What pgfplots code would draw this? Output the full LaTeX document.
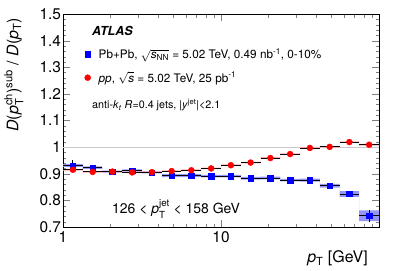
\documentclass[border=0pt]{standalone}
\usepackage{fontspec}
\setmainfont{TeX Gyre Heros}
\usepackage{amsmath}
\usepackage{pgfplots}
\usepackage{pgfplotstable}
\pgfplotsset{compat=1.18}
\definecolor{bandblue}{RGB}{150,150,245}
\definecolor{bandred}{RGB}{255,165,165}
\definecolor{gridgray}{RGB}{200,200,200}

\pgfplotstableread{
x       xm      xp      by     bey    ry     rey
1.1548  0.1548  0.1787  0.931  0.020  0.915  0.002
1.5399  0.2064  0.2384  0.923  0.003  0.907  0.002
2.0535  0.2752  0.3179  0.908  0.003  0.908  0.002
2.7384  0.3670  0.4239  0.912  0.003  0.905  0.002
3.6517  0.4894  0.5653  0.905  0.003  0.906  0.002
4.8697  0.6527  0.7537  0.893  0.003  0.910  0.002
6.4938  0.8704  1.0051  0.893  0.003  0.913  0.002
8.6596  1.1607  1.3404  0.891  0.003  0.920  0.002
11.548  1.548   1.787   0.891  0.003  0.932  0.002
15.399  2.064   2.384   0.883  0.003  0.942  0.002
20.535  2.752   3.179   0.884  0.003  0.959  0.002
27.384  3.670   4.239   0.876  0.003  0.974  0.002
36.517  4.894   5.653   0.876  0.003  0.997  0.002
48.697  6.527   7.537   0.855  0.004  1.001  0.002
64.938  8.704   10.051  0.824  0.006  1.019  0.002
86.596  11.607  13.404  0.742  0.022  1.009  0.003
}\pts

\begin{document}
\begin{tikzpicture}
\path[use as bounding box] (-63bp,-44bp) rectangle (336bp,227bp);
\begin{axis}[
  at={(0bp,0bp)}, anchor=south west,
  scale only axis, width=316bp, height=213bp,
  xmode=log, xmin=1, xmax=100, ymin=0.7, ymax=1.5,
  xtick={1,10,100}, xticklabels={1,10,{}},
  ytick={0.7,0.8,0.9,1,1.1,1.2,1.3,1.4,1.5},
  minor y tick num=4,
  tick align=inside, tick pos=both,
  xticklabel pos=lower, yticklabel pos=left,
  major tick length=7bp, minor tick length=3.5bp,
  axis line style={line width=0.8bp},
  ticklabel style={font=\fontsize{15.5}{17}\selectfont},
  yticklabel style={xshift=1.5bp},
  xticklabel style={yshift=-1.5bp},
  /pgf/number format/assume math mode=true,
  legend image code/.code={\path[draw=none,fill=none] (-5bp,-3bp) rectangle (9bp,3bp);
    \draw[#1] plot coordinates {(0bp,0bp)};},
  legend style={draw=none, fill=none, at={(axis description cs:0,1)}, anchor=north west,
    xshift=16.5bp, yshift=-30bp, font=\fontsize{11.8}{13.5}\selectfont, row sep=8bp},
  legend cell align=left,
]
\addplot[gridgray, line width=0.6bp, forget plot] coordinates {(1,1) (100,1)};

% blue systematic band (bin edges, upper then lower limits)
\addplot[fill=bandblue, draw=none, forget plot] coordinates {
(1,0.936) (1.3335,0.936) (1.3335,0.928) (1.7783,0.928) (1.7783,0.912) (2.3714,0.912)
(2.3714,0.916) (3.1623,0.916) (3.1623,0.909) (4.2170,0.909) (4.2170,0.899) (5.6234,0.899)
(5.6234,0.899) (7.4989,0.899) (7.4989,0.896) (10,0.896) (10,0.896) (13.335,0.896)
(13.335,0.888) (17.783,0.888) (17.783,0.889) (23.714,0.889) (23.714,0.881) (31.623,0.881)
(31.623,0.882) (42.170,0.882) (42.170,0.862) (56.234,0.862) (56.234,0.835) (74.989,0.835)
(74.989,0.762) (100,0.762)
(100,0.722) (74.989,0.722) (74.989,0.813) (56.234,0.813) (56.234,0.848) (42.170,0.848)
(42.170,0.870) (31.623,0.870) (31.623,0.871) (23.714,0.871) (23.714,0.879) (17.783,0.879)
(17.783,0.878) (13.335,0.878) (13.335,0.886) (10,0.886) (10,0.886) (7.4989,0.886)
(7.4989,0.887) (5.6234,0.887) (5.6234,0.887) (4.2170,0.887) (4.2170,0.901) (3.1623,0.901)
(3.1623,0.908) (2.3714,0.908) (2.3714,0.904) (1.7783,0.904) (1.7783,0.918) (1.3335,0.918)
(1.3335,0.926) (1,0.926)} -- cycle;

% red systematic band
\addplot[fill=bandred, draw=none, forget plot] coordinates {
(1,0.918) (1.3335,0.918) (1.3335,0.910) (1.7783,0.910) (1.7783,0.911) (2.3714,0.911)
(2.3714,0.908) (3.1623,0.908) (3.1623,0.909) (4.2170,0.909) (4.2170,0.913) (5.6234,0.913)
(5.6234,0.916) (7.4989,0.916) (7.4989,0.923) (10,0.923) (10,0.935) (13.335,0.935)
(13.335,0.945) (17.783,0.945) (17.783,0.962) (23.714,0.962) (23.714,0.977) (31.623,0.977)
(31.623,1.000) (42.170,1.000) (42.170,1.004) (56.234,1.004) (56.234,1.022) (74.989,1.022)
(74.989,1.012) (100,1.012)
(100,1.006) (74.989,1.006) (74.989,1.016) (56.234,1.016) (56.234,0.998) (42.170,0.998)
(42.170,0.994) (31.623,0.994) (31.623,0.971) (23.714,0.971) (23.714,0.956) (17.783,0.956)
(17.783,0.939) (13.335,0.939) (13.335,0.929) (10,0.929) (10,0.917) (7.4989,0.917)
(7.4989,0.910) (5.6234,0.910) (5.6234,0.907) (4.2170,0.907) (4.2170,0.903) (3.1623,0.903)
(3.1623,0.902) (2.3714,0.902) (2.3714,0.905) (1.7783,0.905) (1.7783,0.904) (1.3335,0.904)
(1.3335,0.912) (1,0.912)} -- cycle;

\addplot[only marks, mark=square*, mark size=2.7bp, mark options={fill=blue, draw=blue},
  error bars/.cd, x dir=both, x explicit, y dir=both, y explicit, error mark=none,
  error bar style={black, line width=0.8bp}]
  table[x=x, y=by, x error plus=xp, x error minus=xm, y error=bey] {\pts};
\addlegendentry{Pb+Pb, $\sqrt{\text{\textit{s}}_{\text{NN}}}$ = 5.02 TeV, 0.49 nb\textsuperscript{-1}, 0-10\%}

\addplot[only marks, mark=*, mark size=3bp, mark options={fill=red, draw=red},
  error bars/.cd, x dir=both, x explicit, y dir=both, y explicit, error mark=none,
  error bar style={black, line width=0.8bp}]
  table[x=x, y=ry, x error plus=xp, x error minus=xm, y error=rey] {\pts};
\addlegendentry{\textit{pp}, $\sqrt{\text{\textit{s}}}$ = 5.02 TeV, 25 pb\textsuperscript{-1}}
\end{axis}

\node[anchor=west, inner sep=0, font=\bfseries\itshape\fontsize{12.5}{14}\selectfont] at (29bp,196bp) {ATLAS};
\node[anchor=west, inner sep=0, font=\fontsize{10.8}{13}\selectfont] at (29bp,122bp)
  {anti-\textit{k}\textsubscript{\textit{t}} \textit{R}=0.4 jets, |\textit{y}\textsuperscript{jet}|<2.1};
\node[anchor=west, inner sep=0, font=\fontsize{14}{16}\selectfont] at (49bp,18bp)
  {126 < \textit{p}$^{\text{jet}}_{\text{T}}$ < 158 GeV};
\node[rotate=90, anchor=base east, inner sep=0, font=\fontsize{16}{18}\selectfont] at (-44.5bp,209bp)
  {\textit{D}(\textit{p}$^{\text{ch}}_{\text{T}}$)$^{\text{sub}}$ / \textit{D}(\textit{p}$_{\text{T}}$)};
\node[anchor=base east, inner sep=0, font=\fontsize{16}{18}\selectfont] at (305bp,-35.7bp)
  {\textit{p}$_{\text{T}}$ [GeV]};
\end{tikzpicture}
\end{document}
